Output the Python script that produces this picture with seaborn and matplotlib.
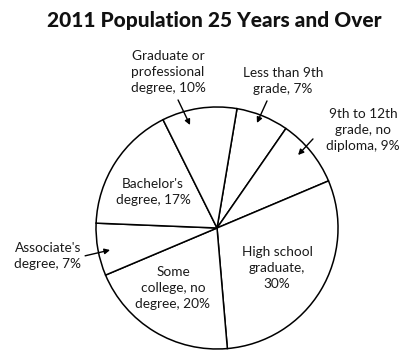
import matplotlib
matplotlib.use('Agg')
import matplotlib.pyplot as plt
import seaborn as sns

# data
categories = ['Less than 9th grade', '9th to 12th grade, no diploma',
              'High school graduate', 'Some college, no degree',
              "Associate's degree", "Bachelor's degree",
              'Graduate or professional degree']
shares = [7, 9, 30, 20, 7, 17, 10]
label_text = ['Less than 9th\ngrade, 7%', '9th to 12th\ngrade, no\ndiploma, 9%',
              'High school\ngraduate,\n30%', 'Some\ncollege, no\ndegree, 20%',
              "Associate's\ndegree, 7%", "Bachelor's\ndegree, 17%",
              'Graduate or\nprofessional\ndegree, 10%']

# layout: where each label sits, and arrow (start, tip) for the outside ones
label_pos = [(0.545, 1.215), (1.205, 0.81), (0.496, -0.331), (-0.364, -0.496),
             (-1.397, -0.231), (-0.529, 0.298), (-0.405, 1.289)]
arrows = {0: ((0.413, 1.05), (0.33, 0.868)),
          1: ((0.793, 0.736), (0.67, 0.603)),
          4: ((-1.09, -0.23), (-0.884, -0.182)),
          6: ((-0.322, 1.058), (-0.223, 0.851))}

sns.set_theme(style='white')
plt.rcParams['font.family'] = ['Lato', 'DejaVu Sans']

fig = plt.figure(figsize=(4.01, 3.52), dpi=100)
ax = fig.add_axes([0.164, -0.0774, 0.7544, 0.8594])

ax.pie(shares, startangle=80.5, counterclock=False, colors=['white'] * len(shares),
       wedgeprops=dict(edgecolor='black', linewidth=1.1))
ax.set_xlim(-1.25, 1.25)
ax.set_ylim(-1.25, 1.25)
ax.set_aspect('equal')

for i, txt in enumerate(label_text):
    x, y = label_pos[i]
    ax.text(x, y, txt, ha='center', va='center', fontsize=9.8,
            color='#1a1a1a', linespacing=1.4, clip_on=False)
    if i in arrows:
        start, tip = arrows[i]
        ax.annotate('', xy=tip, xytext=start, annotation_clip=False,
                    arrowprops=dict(arrowstyle='-|>', color='black', lw=1.0,
                                    mutation_scale=8, shrinkA=0, shrinkB=0))

fig.text(0.535, 0.943, '2011 Population 25 Years and Over', ha='center',
         va='center', fontsize=15, fontweight='black', color='#111111')

fig.savefig('out.png', dpi=100)
